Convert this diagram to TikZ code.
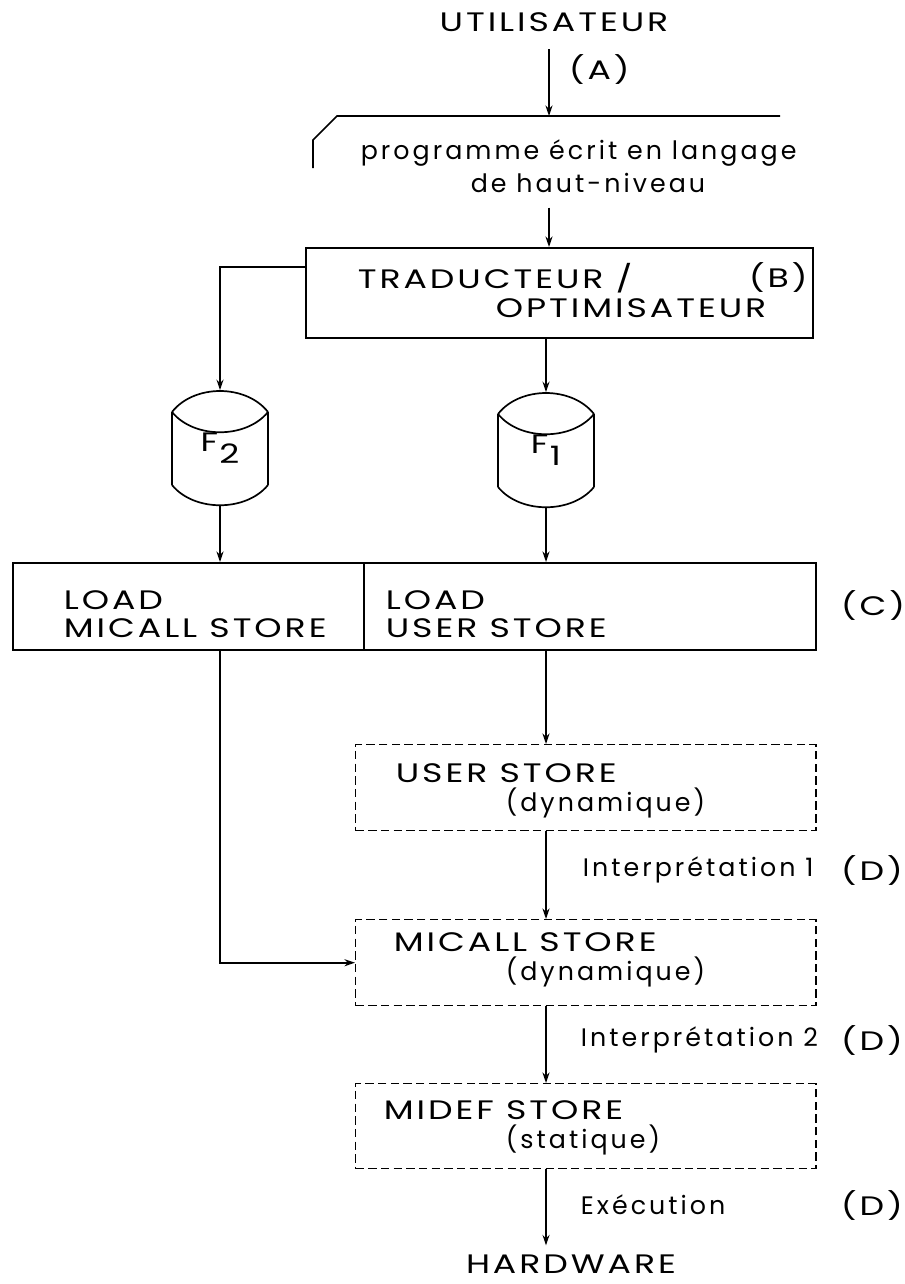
\documentclass[tikz,border=0pt]{standalone}
\usepackage{fontspec}
\setmainfont{Poppins}[LetterSpace=12]
\newfontfamily\capsfont{Poppins}[FakeStretch=1.3,LetterSpace=11]
\usetikzlibrary{arrows.meta,positioning}

\begin{document}
\begin{tikzpicture}[x=0.025cm,y=-0.025cm,line width=1.2pt,>={Stealth[length=7.5pt,width=5pt]}]
    \tikzstyle{every node} = [font=\fontsize{18}{21}\selectfont,inner sep=0pt]
    \tikzstyle{caps} = [font=\capsfont\fontsize{19}{20}\selectfont]
    \tikzstyle{txt} = [anchor=west,align=left]
    \tikzstyle{box} = [draw,shape=rectangle,anchor=north west]
    \tikzstyle{store} = [box,line width=1pt,dash pattern=on 6pt off 3pt]
    \tikzstyle{disc} = [caps,shape=rectangle,minimum width=2.4cm,minimum height=2.85cm]
    \useasboundingbox (0,0) rectangle (904,1284);

    % boxes
    \node[box,minimum width=12.675cm,minimum height=2.25cm] (trad) at (305,247) {};
    \node[box,minimum width=8.775cm,minimum height=2.175cm] (loadM) at (12,562) {};
    \node[box,minimum width=11.3cm,minimum height=2.175cm] (loadU) at (363,562) {};
    \node[store,minimum width=11.5cm,minimum height=2.15cm] (userS) at (355,744) {};
    \node[store,minimum width=11.5cm,minimum height=2.15cm] (micS) at (355,919) {};
    \node[store,minimum width=11.5cm,minimum height=2.125cm] (midS) at (355,1083) {};

    % document (programme)
    \coordinate (doc) at (549,116);
    \draw (780,116) -- (337,116) -- (313,140) -- (313,168);

    % discs F1, F2
    \node[disc] (f2) at (220,448) {F\kern1pt\raisebox{-0.8ex}{2}};
    \node[disc] (f1) at (546,450) {F\kern1pt\raisebox{-0.8ex}{1}};
    \foreach \cx/\cy in {220/448,546/450}{
        \draw ({\cx-48},{\cy-36}) .. controls ({\cx-26},{\cy-64}) and ({\cx+26},{\cy-64}) .. ({\cx+48},{\cy-36});
        \draw ({\cx-48},{\cy-36}) .. controls ({\cx-26},{\cy-9}) and ({\cx+26},{\cy-9}) .. ({\cx+48},{\cy-36});
        \draw ({\cx-48},{\cy-36}) -- ({\cx-48},{\cy+37});
        \draw ({\cx+48},{\cy-36}) -- ({\cx+48},{\cy+37});
        \draw ({\cx-48},{\cy+37}) .. controls ({\cx-26},{\cy+64}) and ({\cx+26},{\cy+64}) .. ({\cx+48},{\cy+37});
    }

    % texts
    \node[caps] (util) at (554,22) {UTILISATEUR};
    \node[caps,txt] (lblA) at (568,70) {(A)};
    \node[txt] (prog1) at (360,153) {programme écrit en langage};
    \node[txt] (prog2) at (470,183) {de haut-niveau};
    \node[caps,txt] (trad1) at (357,278) {TRADUCTEUR /};
    \node[caps,txt] (lblB) at (748,278) {(B)};
    \node[caps,txt] (trad2) at (495,308) {OPTIMISATEUR};
    \node[caps,txt] (loadMt) at (63,614) {LOAD\\MICALL STORE};
    \node[caps,txt] (loadUt) at (385,614) {LOAD\\USER STORE};
    \node[caps,txt] (lblC) at (840,605) {(C)};
    \node[caps,txt] (user1) at (395,773) {USER STORE};
    \node[txt] (user2) at (505,803) {(dynamique)};
    \node[caps,txt] (mic1) at (393,942) {MICALL STORE};
    \node[txt] (mic2) at (505,972) {(dynamique)};
    \node[caps,txt] (mid1) at (383,1110) {MIDEF STORE};
    \node[txt] (mid2) at (505,1140) {(statique)};
    \node[txt] (interp1) at (582,870) {Interprétation 1};
    \node[caps,txt] (lblD1) at (840,870) {(D)};
    \node[txt] (interp2) at (580,1040) {Interprétation 2};
    \node[caps,txt] (lblD2) at (840,1040) {(D)};
    \node[txt] (exec) at (580,1205) {Exécution};
    \node[caps,txt] (lblD3) at (840,1205) {(D)};
    \node[caps] (hard) at (571,1264) {HARDWARE};

    % connectors
    \coordinate (tradout) at (305,267);
    \draw [->,shorten <=12pt] (util.south -| doc) -- (doc);
    \draw [->,shorten <=10pt] (prog2.south -| doc) -- (trad.north -| doc);
    \draw [->] (tradout) -| (f2.north);
    \draw [->] (trad.south -| f1) -- (f1.north);
    \draw [->] (f2.south) -- (f2.south |- loadM.north);
    \draw [->] (f1.south) -- (f1.south |- loadU.north);
    \draw [->] (loadM.south -| f2) |- (micS.west);
    \draw [->] (loadU.south -| f1) -- (userS.north -| f1);
    \draw [->] (userS.south -| f1) -- (micS.north -| f1);
    \draw [->] (micS.south -| f1) -- (midS.north -| f1);
    \draw [->,shorten >=6pt] (midS.south -| f1) -- (hard.north -| f1);

\end{tikzpicture}
\end{document}
